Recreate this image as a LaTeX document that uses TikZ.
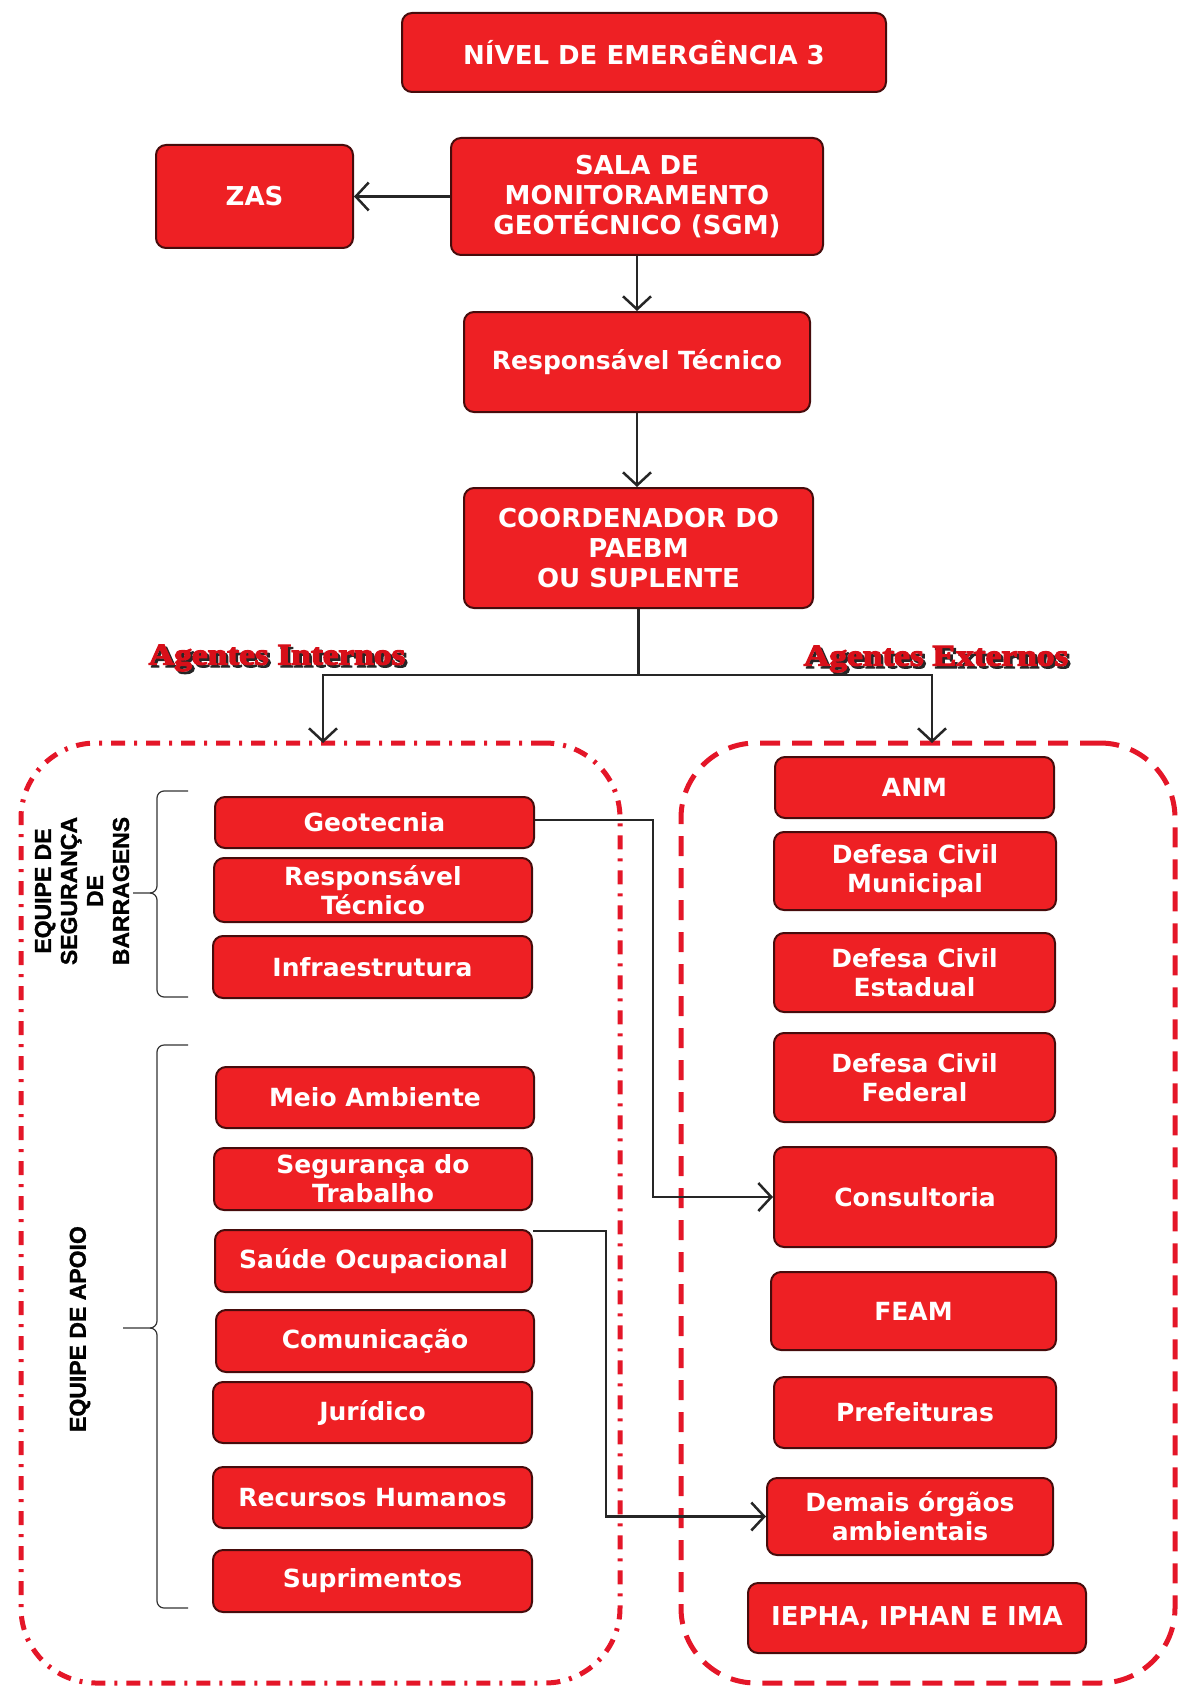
\documentclass[tikz,border=0pt]{standalone}
\usepackage{fontspec}
\usepackage{graphicx}
\setmainfont{DejaVu Sans}
\newfontfamily\arialf[FakeBold=1.2]{Liberation Sans}
\newfontfamily\serifb[BoldFeatures={FakeBold=4}]{Liberation Serif}
\usetikzlibrary{arrows.meta}
\definecolor{boxred}{RGB}{238,32,36}
\definecolor{boxedge}{RGB}{70,12,12}
\definecolor{ctred}{RGB}{228,22,40}
\definecolor{lblred}{RGB}{215,15,25}
\tikzset{
  bx/.style={draw=boxedge, line width=2pt, fill=boxred, rounded corners=10pt,
    text=white, font=\bfseries\fontsize{25}{29}\selectfont, align=center, inner sep=0pt},
  capsbx/.style={bx, font=\bfseries\fontsize{26}{30}\selectfont},
  conn/.style={line width=2.5pt, draw=black!85},
  arr/.style={conn, -{Straight Barb[length=13pt,width=28pt]}},
  brace/.style={line width=1.2pt, draw=black!80},
  grp/.style={font=\arialf\bfseries\fontsize{23}{26}\selectfont, align=center, rotate=90, inner sep=0pt},
  agl/.style={font=\serifb\bfseries\fontsize{30}{30}\selectfont, inner sep=0pt},
  cont/.style={draw=ctred, line width=5pt, rounded corners=75pt, inner sep=0pt}
}
\newcommand\mybox[7][bx]{\node[#1, minimum width={#5-#3}, minimum height={#6-#4}] (#2) at ({(#3+#5)/2},{(#4+#6)/2}) {#7};}
\begin{document}
\begin{tikzpicture}[x=1pt,y=-1pt]
\useasboundingbox (0,0) rectangle (1179,1688);
% containers
\node[cont, dash pattern=on 14pt off 9pt on 3pt off 9pt, minimum width=599, minimum height=940] (cL) at (320.5,1213) {};
\node[cont, dash pattern=on 20pt off 12pt, minimum width=494, minimum height=940] (cR) at (928,1213) {};
% top chain
\mybox[capsbx]{nivel}{402}{13}{886}{92}{NÍVEL DE EMERGÊNCIA 3}
\mybox[capsbx]{zas}{156}{145}{353}{248}{ZAS}
\mybox[capsbx]{sgm}{451}{138}{823}{255}{SALA DE\\MONITORAMENTO\\GEOTÉCNICO (SGM)}
\mybox{resp}{464}{312}{810}{412}{Responsável Técnico}
\mybox[capsbx]{coord}{464}{488}{813}{608}{COORDENADOR DO\\PAEBM\\OU SUPLENTE}
% left boxes
\mybox{geo}{215}{797}{534}{848}{Geotecnia}
\mybox{rt}{214}{858}{532}{922}{Responsável\\Técnico}
\mybox{infra}{213}{936}{532}{998}{Infraestrutura}
\mybox{meio}{216}{1067}{534}{1128}{Meio Ambiente}
\mybox{seg}{214}{1148}{532}{1210}{Segurança do\\Trabalho}
\mybox{sau}{215}{1230}{532}{1292}{Saúde Ocupacional}
\mybox{com}{216}{1310}{534}{1372}{Comunicação}
\mybox{jur}{213}{1382}{532}{1443}{Jurídico}
\mybox{rh}{213}{1467}{532}{1528}{Recursos Humanos}
\mybox{sup}{213}{1550}{532}{1612}{Suprimentos}
% right boxes
\mybox{anm}{775}{757}{1054}{818}{ANM}
\mybox{dcm}{774}{832}{1056}{910}{Defesa Civil\\Municipal}
\mybox{dce}{774}{933}{1055}{1012}{Defesa Civil\\Estadual}
\mybox{dcf}{774}{1033}{1055}{1122}{Defesa Civil\\Federal}
\mybox{cons}{774}{1147}{1056}{1247}{Consultoria}
\mybox{feam}{771}{1272}{1056}{1350}{FEAM}
\mybox{pref}{774}{1377}{1056}{1448}{Prefeituras}
\mybox{dem}{767}{1478}{1053}{1555}{Demais órgãos\\ambientais}
\mybox[capsbx]{iepha}{748}{1583}{1086}{1653}{IEPHA, IPHAN E IMA}
% labels
\node[agl, text=black!85] at (279.5,660.5) {\scalebox{1.18}[1]{Agentes Internos}};
\node[agl, text=lblred] (ai) at (277,658) {\scalebox{1.18}[1]{Agentes Internos}};
\node[agl, text=black!85] at (938.5,661.5) {\scalebox{1.18}[1]{Agentes Externos}};
\node[agl, text=lblred] (ae) at (936,659) {\scalebox{1.18}[1]{Agentes Externos}};
\node[grp] (esb) at (82,891) {EQUIPE DE\\SEGURANÇA\\DE\\BARRAGENS};
\node[grp] (eap) at (80,1329) {EQUIPE DE APOIO};
% braces
\draw[brace] (188,791) -- (164,791) to[out=180,in=90] (157,798) -- (157,886) to[out=-90,in=0] (150,893) -- (133,893);
\draw[brace] (150,893) to[out=0,in=90] (157,900) -- (157,990) to[out=-90,in=180] (164,997) -- (188,997);
\draw[brace] (188,1045) -- (164,1045) to[out=180,in=90] (157,1052) -- (157,1321) to[out=-90,in=0] (150,1328) -- (123,1328);
\draw[brace] (150,1328) to[out=0,in=90] (157,1335) -- (157,1601) to[out=-90,in=180] (164,1608) -- (188,1608);
% connectors
\coordinate (inL) at (323,743);
\coordinate (inR) at (932,743);
\draw[arr] (sgm.west) -- (zas.east);
\draw[arr] (sgm.south -| resp.north) -- (resp.north);
\draw[arr] (resp.south) -- (resp.south |- coord.north);
\draw[conn] (coord.south) -- (coord.south |- 0,675) coordinate (jn);
\draw[arr] (jn) -| (inL);
\draw[arr] (jn) -| (inR);
\draw[arr] (geo.east |- 0,820) -- (653,820) |- (cons.west);
\draw[arr] ([yshift=-2pt]sau.north east) -- ++(73,0) |- (dem.west);
\end{tikzpicture}
\end{document}
